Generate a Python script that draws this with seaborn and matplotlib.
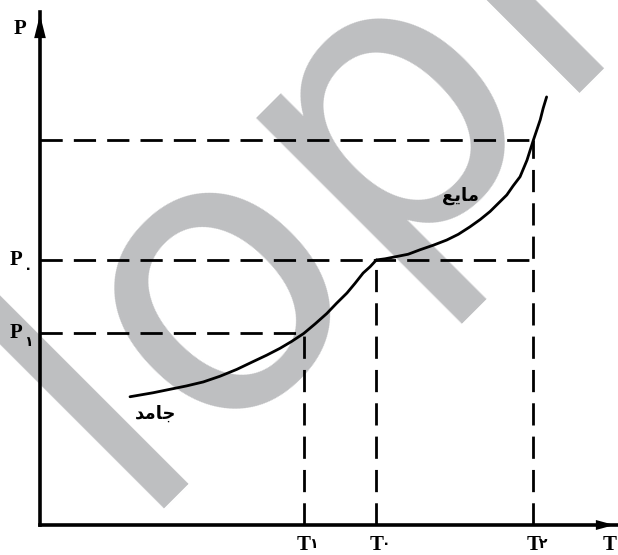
import numpy as np
import pandas as pd
import matplotlib
matplotlib.use('Agg')
import matplotlib.pyplot as plt
import seaborn as sns

# phase diagram values (arbitrary units)
solid_T = [1.56, 1.96, 2.54, 2.83, 3.12, 3.41, 3.70, 3.93, 4.16, 4.36, 4.57,
           4.77, 4.97, 5.14, 5.32, 5.46, 5.60, 5.72, 5.83]
solid_P = [2.25, 2.32, 2.44, 2.51, 2.61, 2.73, 2.87, 2.98, 3.10, 3.22, 3.36,
           3.53, 3.71, 3.89, 4.07, 4.24, 4.42, 4.53, 4.65]
liquid_T = [5.83, 5.98, 6.18, 6.38, 6.59, 6.82, 7.05, 7.25, 7.45, 7.63, 7.80,
            7.94, 8.09, 8.20, 8.32, 8.44, 8.55, 8.67, 8.72, 8.78]
liquid_P = [4.65, 4.67, 4.71, 4.75, 4.83, 4.91, 5.00, 5.10, 5.23, 5.36, 5.50,
            5.64, 5.79, 5.95, 6.11, 6.40, 6.75, 7.11, 7.31, 7.51]

T_marks = [4.57, 5.83, 8.55]          # T1, T0, T2
P_marks = [3.36, 4.65, 6.75]          # P1, P0, (top, unlabeled)
h_ends = [4.57, 8.61, 8.61]
T_subs = ['\u06F1', '\u06F0', '\u06F2']
P_subs = ['\u06F1', '\u06F0']

# presentation forms, visual order (matplotlib does no arabic shaping)
solid_word = '\uFEAA\uFEE3\uFE8E\uFE9F'    # جامد
liquid_word = '\uFECA\uFEF3\uFE8E\uFEE3'   # مایع

sns.set_theme(style='white')
plt.rcParams['font.family'] = ['Liberation Serif', 'DejaVu Sans']

fig = plt.figure(figsize=(6.18, 5.55), dpi=100)
fig.patch.set_facecolor('white')
ax = fig.add_axes([40 / 618, 30 / 555, 577 / 618, 513 / 555])
ax.set_xlim(0, 10)
ax.set_ylim(0, 9)
ax.patch.set_alpha(0)

# watermark
ax.text(374 / 618, 1 - 262 / 555, 'lopl', transform=fig.transFigure,
        rotation=45, rotation_mode='anchor', ha='center', va='baseline',
        fontsize=278, color='#bebfc1', family='DejaVu Sans',
        zorder=0, clip_on=False)

dash = (0, (8, 4))
ax.hlines(P_marks, 0, h_ends, colors='black', linestyles=[dash], lw=2, zorder=2)
ax.vlines(T_marks, 0, P_marks, colors='black', linestyles=[dash], lw=2, zorder=2)

solid = pd.DataFrame({'T': solid_T, 'P': solid_P})
liquid = pd.DataFrame({'T': liquid_T, 'P': liquid_P})
for part in [solid, liquid]:
    sns.lineplot(data=part, x='T', y='P', color='black', lw=2.0, sort=False,
                 estimator=None, ax=ax, zorder=3,
                 solid_joinstyle='round', solid_capstyle='round')

ax.text(2.0, 1.95, solid_word, family='DejaVu Sans',
        fontsize=13, fontweight='bold', ha='center', va='center', color='black')
ax.text(7.28, 5.77, liquid_word, family='DejaVu Sans',
        fontsize=13, fontweight='bold', ha='center', va='center', color='black')

# axes with arrows
for side in ['top', 'right']:
    ax.spines[side].set_visible(False)
for side in ['left', 'bottom']:
    ax.spines[side].set_linewidth(2.6)
    ax.spines[side].set_color('black')
    ax.spines[side].set_zorder(4)
ax.set_xticks([])
ax.set_yticks([])
ax.set_xlabel('')
ax.set_ylabel('')
head = dict(arrowstyle='-|>,head_length=1.4,head_width=0.35', color='black',
            lw=0, mutation_scale=12)
ax.annotate('', xy=(0, 1), xytext=(0, 0.95), xycoords='axes fraction',
            arrowprops=head, zorder=5)
ax.annotate('', xy=(1, 0), xytext=(0.95, 0), xycoords='axes fraction',
            arrowprops=dict(head, arrowstyle='-|>,head_length=1.1,head_width=0.3'),
            zorder=5)

lab = dict(fontsize=15, fontweight='bold', color='black',
           textcoords='offset pixels')
sub = dict(fontsize=10, fontweight='bold', color='black', family='DejaVu Sans',
           textcoords='offset pixels')

ax.annotate('P', xy=(0, 1), xycoords='axes fraction', xytext=(-20, -17),
            ha='center', va='center', **lab)
for p, s in zip(P_marks[:2], P_subs):
    ax.annotate('P', xy=(0, p), xytext=(-24, 0), ha='center', va='center', **lab)
    ax.annotate(s, xy=(0, p), xytext=(-12, -9), ha='center', va='center', **sub)

for t, s in zip(T_marks, T_subs):
    ax.annotate('T', xy=(t, 0), xytext=(0, -10), ha='center', va='top', **lab)
    ax.annotate(s, xy=(t, 0), xytext=(10, -19), ha='center', va='center', **sub)
ax.annotate('T', xy=(0.988, 0), xycoords='axes fraction', xytext=(0, -10),
            ha='center', va='top', **lab)

fig.savefig('out.png', dpi=100)
